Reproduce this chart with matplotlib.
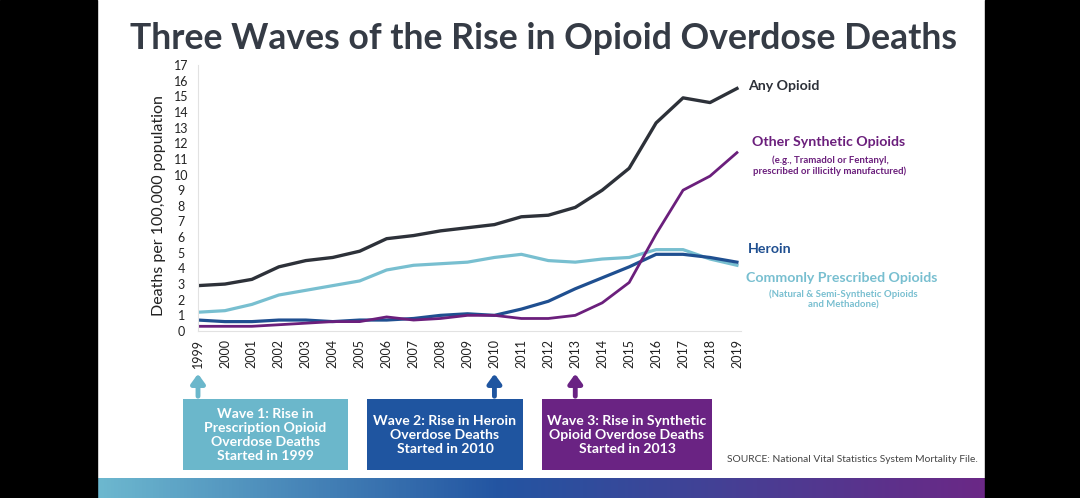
import matplotlib
matplotlib.use("Agg")
import matplotlib.pyplot as plt
import matplotlib.transforms as mtransforms
from matplotlib.patches import Rectangle
import numpy as np

plt.rcParams['font.family'] = ['Lato', 'DejaVu Sans']

years = list(range(1999, 2020))
any_opioid = [2.9, 3.0, 3.3, 4.1, 4.5, 4.7, 5.1, 5.9, 6.1, 6.4, 6.6,
              6.8, 7.3, 7.4, 7.9, 9.0, 10.4, 13.3, 14.9, 14.6, 15.5]
prescribed = [1.2, 1.3, 1.7, 2.3, 2.6, 2.9, 3.2, 3.9, 4.2, 4.3, 4.4,
              4.7, 4.9, 4.5, 4.4, 4.6, 4.7, 5.2, 5.2, 4.6, 4.2]
heroin = [0.7, 0.6, 0.6, 0.7, 0.7, 0.6, 0.7, 0.7, 0.8, 1.0, 1.1,
          1.0, 1.4, 1.9, 2.7, 3.4, 4.1, 4.9, 4.9, 4.7, 4.4]
synthetic = [0.3, 0.3, 0.3, 0.4, 0.5, 0.6, 0.6, 0.9, 0.7, 0.8, 1.0,
             1.0, 0.8, 0.8, 1.0, 1.8, 3.1, 6.2, 9.0, 9.9, 11.4]

wave_years = [1999, 2010, 2013]
wave_texts = ["Wave 1: Rise in\nPrescription Opioid\nOverdose Deaths\nStarted in 1999",
              "Wave 2: Rise in Heroin\nOverdose Deaths\nStarted in 2010",
              "Wave 3: Rise in Synthetic\nOpioid Overdose Deaths\nStarted in 2013"]
wave_colors = ["#6bb7cb", "#1f55a0", "#6a2383"]

c_any = "#2d3139"
c_syn = "#6b1f7c"
c_her = "#1f4f90"
c_pre = "#78bfd0"

W, H = 1080, 498
fig = plt.figure(figsize=(W / 100, H / 100), dpi=100)
fig.patch.set_facecolor("white")

def fx(px):
    return px / W

def fy(py):
    return 1 - py / H

# black side bars
fig.patches.append(Rectangle((0, 0), fx(97), 1, transform=fig.transFigure,
                             color="black", zorder=0))
fig.patches.append(Rectangle((fx(985), 0), 1 - fx(985), 1, transform=fig.transFigure,
                             color="black", zorder=0))

# gradient bar at the bottom
gax = fig.add_axes([fx(97), 0, fx(985) - fx(97), 20 / H])
grad = np.linspace(0, 1, 256)
stops = np.array([[0x6d, 0xb8, 0xcf], [0x23, 0x55, 0xa2], [0x6b, 0x28, 0x86]]) / 255
cols = np.array([np.interp(grad, [0, 0.45, 1], stops[:, k]) for k in range(3)]).T
gax.imshow(cols[np.newaxis, :, :], aspect="auto", extent=[0, 1, 0, 1])
gax.axis("off")

fig.text(fx(543), fy(38), "Three Waves of the Rise in Opioid Overdose Deaths",
         ha="center", va="center", fontsize=25.6, fontweight="bold", color="#353b45")

ax = fig.add_axes([fx(198), fy(331), fx(741) - fx(198), (331 - 65) / H])
ax.plot(years, any_opioid, color=c_any, lw=2.4)
ax.plot(years, prescribed, color=c_pre, lw=2.3)
ax.plot(years, heroin, color=c_her, lw=2.3)
ax.plot(years, synthetic, color=c_syn, lw=2.0)

ax.set_xlim(1999, 2019.15)
ax.set_ylim(0, 17)
ax.set_yticks(range(0, 18))
ax.set_xticks(years)
ax.set_xticklabels([str(y) for y in years], rotation=90)
ax.tick_params(length=0, labelsize=9, colors="#222222", pad=6)
ax.tick_params(axis="y", pad=12)
for lab in ax.get_yticklabels():
    lab.set_horizontalalignment("center")
for s in ["top", "right"]:
    ax.spines[s].set_visible(False)
for s in ["left", "bottom"]:
    ax.spines[s].set_color("#e2e2e2")
    ax.spines[s].set_linewidth(0.8)
ax.set_ylabel("Deaths per 100,000 population", fontsize=11.5, color="#222222",
              va="center")
ax.yaxis.set_label_coords(-0.071, 0.47)

# series labels
fig.text(fx(748), fy(86), "Any Opioid", fontsize=10.2, fontweight="bold",
         color=c_any, va="center")
fig.text(fx(752), fy(142), "Other Synthetic Opioids", fontsize=10.2, fontweight="bold",
         color=c_syn, va="center")
fig.text(fx(830), fy(165.5), "(e.g., Tramadol or Fentanyl,\nprescribed or illicitly manufactured)",
         fontsize=6.9, fontweight="bold", color=c_syn, va="center", ha="center",
         linespacing=1.2)
fig.text(fx(748), fy(249), "Heroin", fontsize=10.2, fontweight="bold",
         color=c_her, va="center")
fig.text(fx(746), fy(278), "Commonly Prescribed Opioids", fontsize=10.2, fontweight="bold",
         color=c_pre, va="center")
fig.text(fx(843), fy(299), "(Natural & Semi-Synthetic Opioids\nand Methadone)",
         fontsize=6.9, fontweight="bold", color=c_pre, va="center", ha="center",
         linespacing=1.2)

# wave boxes with arrows
boxes = [(183, 348), (367, 523), (542, 712)]
blend = mtransforms.blended_transform_factory(ax.transData, fig.transFigure)
for yr, txt, col, (x0, x1) in zip(wave_years, wave_texts, wave_colors, boxes):
    fig.patches.append(Rectangle((fx(x0), fy(470)), fx(x1) - fx(x0), (470 - 399) / H,
                                 transform=fig.transFigure, facecolor=col,
                                 edgecolor="none", zorder=2))
    fig.text(fx((x0 + x1) / 2), fy(435), txt, ha="center", va="center",
             fontsize=10.1, fontweight="bold", color="white", linespacing=1.18, zorder=3)
    ax.annotate("", xy=(yr, fy(371)), xytext=(yr, fy(399)),
                xycoords=blend, textcoords=blend, annotation_clip=False,
                arrowprops=dict(arrowstyle="-|>,head_width=0.4,head_length=0.55",
                                color=col, lw=3.5))

fig.text(fx(727), fy(459), "SOURCE: National Vital Statistics System Mortality File.",
         fontsize=7.4, color="#444444", va="center")

fig.savefig("out.png", dpi=100)
